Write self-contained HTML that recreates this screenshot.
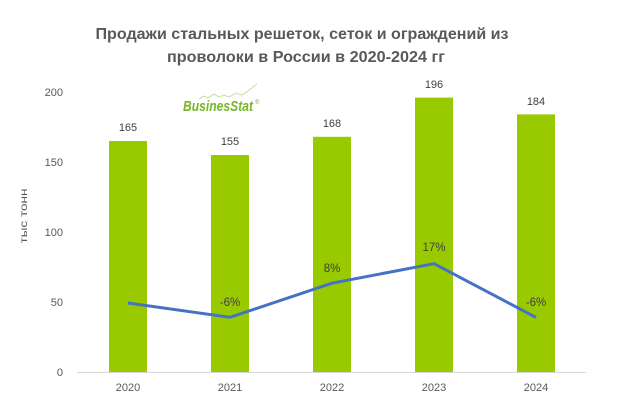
<!DOCTYPE html>
<html><head><meta charset="utf-8"><style>
html,body{margin:0;padding:0;background:#fff;}
svg{display:block;}
text{font-family:"Liberation Sans",sans-serif;}
</style></head><body>
<svg width="638" height="406" viewBox="0 0 638 406" xmlns="http://www.w3.org/2000/svg">
<rect width="638" height="406" fill="#fff"/>
<text x="302" y="39" font-size="15.5" font-weight="bold" fill="#595959" text-anchor="middle" textLength="413" lengthAdjust="spacingAndGlyphs">Продажи стальных решеток, сеток и ограждений из</text>
<text x="306" y="62" font-size="15.5" font-weight="bold" fill="#595959" text-anchor="middle" textLength="278" lengthAdjust="spacingAndGlyphs">проволоки в России в 2020-2024 гг</text>

<g font-size="11" fill="#595959" text-anchor="end">
<text x="63" y="96">200</text>
<text x="63" y="166">150</text>
<text x="63" y="236">100</text>
<text x="63" y="306">50</text>
<text x="63" y="376">0</text>
</g>
<text transform="translate(27,216) rotate(-90)" font-size="10.5" fill="#595959" text-anchor="middle" textLength="55" lengthAdjust="spacingAndGlyphs">тыс  тонн</text>

<g fill="#99CA00">
<rect x="109" y="141" width="38" height="231"/>
<rect x="211" y="155" width="38" height="217"/>
<rect x="313" y="136.8" width="38" height="235.2"/>
<rect x="415" y="97.6" width="38" height="274.4"/>
<rect x="517" y="114.4" width="38" height="257.6"/>
</g>
<line x1="77" y1="372.5" x2="586" y2="372.5" stroke="#d9d9d9" stroke-width="1"/>

<g font-size="11" fill="#404040" text-anchor="middle">
<text x="128" y="131">165</text>
<text x="230" y="145">155</text>
<text x="332" y="127">168</text>
<text x="434" y="88">196</text>
<text x="536" y="105">184</text>
</g>

<polyline points="128,303 230,317.3 332,283.2 434,263.7 536,317.4" fill="none" stroke="#4472C4" stroke-width="3" stroke-linejoin="round"/>
<g font-size="11.5" fill="#404040" text-anchor="middle">
<text x="230" y="306">-6%</text>
<text x="332" y="272">8%</text>
<text x="434" y="251">17%</text>
<text x="536" y="306">-6%</text>
</g>

<g font-size="11" fill="#595959" text-anchor="middle">
<text x="128" y="391">2020</text>
<text x="230" y="391">2021</text>
<text x="332" y="391">2022</text>
<text x="434" y="391">2023</text>
<text x="536" y="391">2024</text>
</g>

<path d="M199,99 L204,96 L208,98 L214,94 L219,97 L224,95 L229,97 L236,93 L242,95 L248,91 L253,87 L257,84" fill="none" stroke="#b8d98a" stroke-width="0.8"/>
<text x="183" y="111" font-size="14.5" font-weight="bold" font-style="italic" fill="#76B72A" textLength="70" lengthAdjust="spacingAndGlyphs">BusinesStat</text>
<text x="255" y="104" font-size="6" fill="#76B72A">®</text>
</svg>
</body></html>
